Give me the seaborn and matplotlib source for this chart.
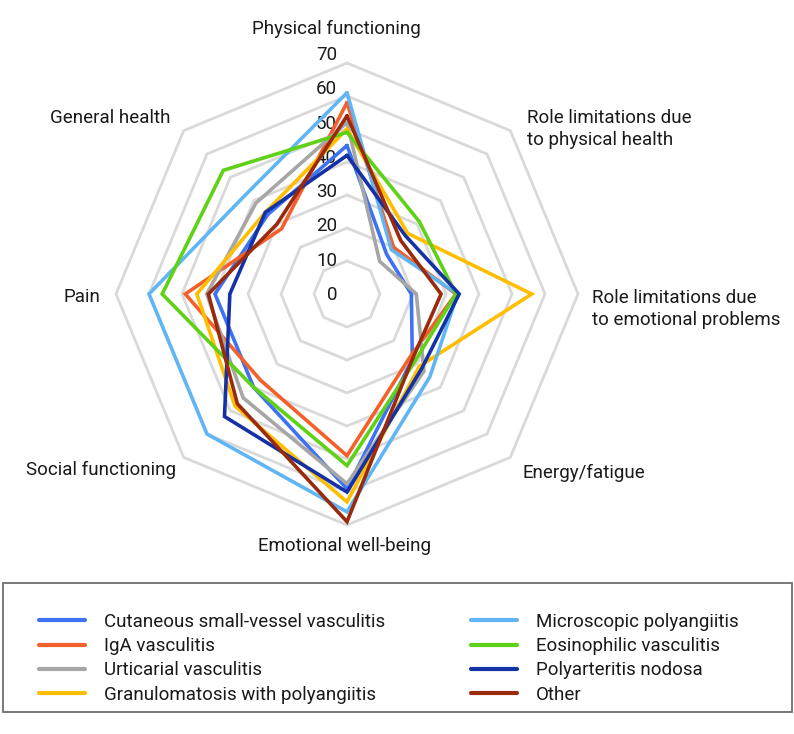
import numpy as np
import pandas as pd
import matplotlib
matplotlib.use("Agg")
import matplotlib.pyplot as plt
from matplotlib.patches import Rectangle
import seaborn as sns

# ---------------- data ----------------
categories = [
    "Physical functioning",
    "Role limitations due\nto physical health",
    "Role limitations due\nto emotional problems",
    "Energy/fatigue",
    "Emotional well-being",
    "Social functioning",
    "Pain",
    "General health",
]
series_names = [
    "Cutaneous small-vessel vasculitis",
    "IgA vasculitis",
    "Urticarial vasculitis",
    "Granulomatosis with polyangiitis",
    "Microscopic polyangiitis",
    "Eosinophilic vasculitis",
    "Polyarteritis nodosa",
    "Other",
]
cutaneous = [45, 17, 19.5, 28, 59, 40, 40, 34]
iga = [58, 20, 33, 27, 49, 37, 49, 28]
urticarial = [52, 14, 21, 33, 57.5, 44.5, 42.5, 39]
granulomatosis = [50, 26, 56, 31, 63, 48, 45.5, 35]
microscopic = [61, 19, 33.5, 35.5, 66, 60, 60, 43]
eosinophilic = [49, 31, 33, 29, 52, 40, 56, 53]
polyarteritis = [42, 25, 34, 32, 60, 52.5, 35.5, 35]
other = [54, 23, 28.5, 28, 69, 47, 42, 30]
grid_levels = [10, 20, 30, 40, 50, 60, 70]
tick_values = [0, 10, 20, 30, 40, 50, 60, 70]
tick_labels = ["0", "10", "20", "30", "40", "50", "60", "70"]

colors = ["#3D72F2", "#F4602A", "#A6A6A6", "#FFBE00",
          "#60B6F5", "#5FD116", "#1531A6", "#992A0B"]

all_series = [cutaneous, iga, urticarial, granulomatosis,
              microscopic, eosinophilic, polyarteritis, other]

# ---------------- geometry ----------------
n = len(categories)
angles = np.deg2rad(90 - 45 * np.arange(n))

rows = []
for name, vals in zip(series_names, all_series):
    v = np.array(vals + [vals[0]], dtype=float)
    a = np.append(angles, angles[0])
    for i, (r, t) in enumerate(zip(v, a)):
        rows.append({"series": name, "order": i,
                     "x": r * np.cos(t), "y": r * np.sin(t)})
df = pd.DataFrame(rows)

W, H = 794, 734
CX, CY, S = 347, 294, 3.3  # pixel center and pixels per unit

sns.set_style("white")
plt.rcParams["font.family"] = ["Roboto", "DejaVu Sans"]

fig = plt.figure(figsize=(W / 100, H / 100), dpi=100)
ax = fig.add_axes([0, 0, 1, 1])
ax.set_xlim(-CX / S, (W - CX) / S)
ax.set_ylim((CY - H) / S, CY / S)
ax.axis("off")

def px(xp, yp):
    return ((xp - CX) / S, (CY - yp) / S)

# octagonal grid
a_closed = np.append(angles, angles[0])
for lvl in grid_levels:
    ax.plot(lvl * np.cos(a_closed), lvl * np.sin(a_closed),
            color="#D9D9D9", lw=2.0, zorder=0, solid_joinstyle="miter")

sns.lineplot(data=df, x="x", y="y", hue="series", hue_order=series_names,
             palette=colors, sort=False, estimator=None, units="series",
             lw=2.6, ax=ax, legend=True)
for line in ax.lines[len(grid_levels):]:
    line.set_solid_joinstyle("miter")

handles, labels = ax.get_legend_handles_labels()
ax.get_legend().remove()

FS = 13.5
# tick labels
for v, lab in zip(tick_values, tick_labels):
    yp = 295 - v * 240 / 70
    x, y = px(337, yp)
    ax.text(x, y, lab, ha="right", va="center", fontsize=FS, color="#1a1a1a",
            zorder=1)

# category labels
label_pos = [
    (336, 29, "center"),
    (527, 129, "left"),
    (592, 309, "left"),
    (522, 473, "left"),
    (345, 546, "center"),
    (176, 470, "right"),
    (100, 297, "right"),
    (171, 118, "right"),
]
for cat, (xp, yp, ha) in zip(categories, label_pos):
    x, y = px(xp, yp)
    ax.text(x, y, cat, ha=ha, va="center", fontsize=FS, color="#1a1a1a",
            linespacing=1.25, multialignment="left")

# legend frame
fig.add_artist(Rectangle((3 / W, 1 - 712 / H), 789 / W, 129 / H,
                         transform=fig.transFigure, fill=False,
                         edgecolor="#6e6e6e", lw=1.3))

for k, x0 in enumerate([39, 471]):
    hs = handles[4 * k:4 * k + 4]
    ls = labels[4 * k:4 * k + 4]
    for h in hs:
        h.set_linewidth(3.0)
    leg = fig.legend(hs, ls, loc="upper left",
                     bbox_to_anchor=(x0 / W, 1 - 613 / H),
                     frameon=False, borderpad=0, borderaxespad=0,
                     handlelength=2.45, handletextpad=1.0,
                     labelspacing=0.33, fontsize=FS)
    for t in leg.get_texts():
        t.set_color("#1a1a1a")

fig.savefig("out.png", dpi=100)
